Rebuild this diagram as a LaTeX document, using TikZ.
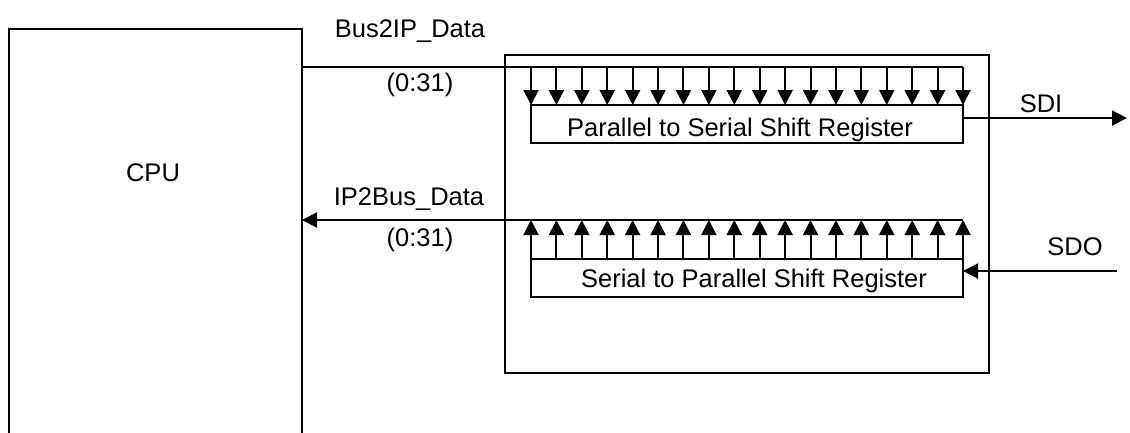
\documentclass[tikz,border=0pt]{standalone}
\usepackage{fontspec}
\setmainfont{Liberation Sans}
\usetikzlibrary{arrows.meta,calc}
\begin{document}
\begin{tikzpicture}[x=1pt,y=-1pt,
  wire/.style={line width=2pt},
  arr/.style={wire,-{Triangle[length=15pt,width=15pt]}},
  box/.style={draw,line width=2pt,rectangle,inner sep=0pt,outer sep=0pt,anchor=north west},
  lbl/.style={font=\fontsize{25.5}{30}\selectfont,inner sep=0pt,anchor=base}]
\useasboundingbox (0,0) rectangle (1130,432);
\clip (-2,-2) rectangle (1132,434);

% blocks
\node[box,minimum width=293pt,minimum height=430pt] (cpu) at (9,29) {};
\node[box,minimum width=484pt,minimum height=318pt] (ip) at (505,55) {};
\node[box,minimum width=432pt,minimum height=38pt] (psr) at (531,105) {};
\node[box,minimum width=432pt,minimum height=38pt] (spr) at (531,259) {};

% bus ends and serial pins
\coordinate (b1r) at (963,67);
\coordinate (b2r) at (963,220);
\coordinate (sdi) at (1127,118);
\coordinate (sdo) at (1117,271);

% Bus2IP_Data bus fanned out to the parallel inputs
\draw[wire] (cpu.east |- b1r) -- (b1r);
\foreach \i in {0,...,17}{
  \coordinate (t\i) at ($(psr.north west)!\i/17!(psr.north east)$);
  \draw[arr] (t\i |- b1r) -- (t\i);
}
% parallel outputs gathered onto IP2Bus_Data
\draw[arr] (b2r) -- (cpu.east |- b2r);
\foreach \i in {0,...,17}{
  \coordinate (s\i) at ($(spr.north west)!\i/17!(spr.north east)$);
  \draw[arr] (s\i) -- (s\i |- b2r);
}
% serial lines
\draw[arr] (psr.east |- sdi) -- (sdi);
\draw[arr] (sdo) -- (spr.east |- sdo);

% labels
\node[lbl] (lcpu) at (153,181) {CPU};
\node[lbl] (lb2ip) at (410,37) {Bus2IP\_Data};
\node[lbl] (lw1) at (420,91) {(0:31)};
\node[lbl] (lip2b) at (409,205) {IP2Bus\_Data};
\node[lbl] (lw2) at (420,246) {(0:31)};
\node[lbl] (lsdi) at (1041,112) {SDI};
\node[lbl] (lsdo) at (1075,255) {SDO};
\node[lbl] (lpsr) at (740,136) {Parallel to Serial Shift Register};
\node[lbl] (lspr) at (754,287) {Serial to Parallel Shift Register};
\end{tikzpicture}
\end{document}
